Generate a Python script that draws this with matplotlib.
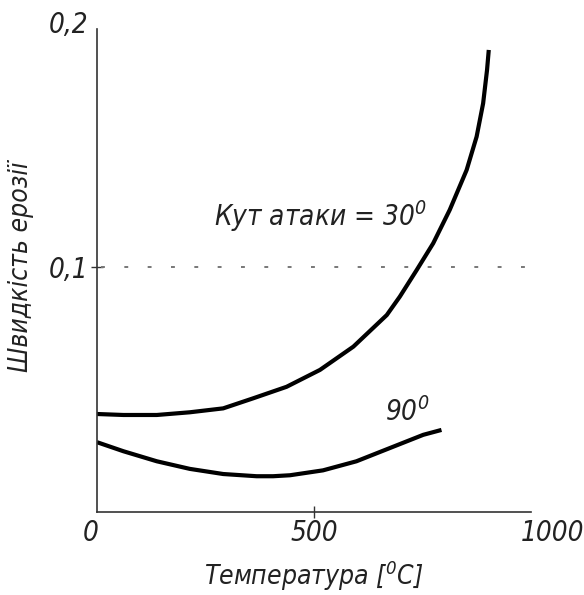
import matplotlib.pyplot as plt
from matplotlib.transforms import ScaledTranslation

# values
temp_30 = [0, 61, 138, 214, 291, 360, 437, 514, 591, 668, 698, 737, 775, 813, 852, 875,
           890, 899, 903]
rate_30 = [0.0400, 0.0396, 0.0396, 0.0407, 0.0423, 0.0464, 0.0511, 0.0580, 0.0675, 0.0804,
           0.0879, 0.0988, 0.1097, 0.1233, 0.1396, 0.1532, 0.1668, 0.1804, 0.1886]
temp_90 = [0, 61, 138, 214, 291, 368, 406, 445, 521, 598, 675, 752, 794]
rate_90 = [0.0285, 0.0248, 0.0207, 0.0176, 0.0155, 0.0146, 0.0146, 0.0150, 0.0170, 0.0207,
           0.0261, 0.0315, 0.0335]

x_ticks = [0, 500, 1000]
x_labels = ["0", "500", "1000"]
y_ticks = [0.1, 0.2]
y_labels = ["0,1", "0,2"]
ref_level = 0.1

plt.rcParams["font.family"] = ["DejaVu Sans"]
plt.rcParams["font.style"] = "italic"
plt.rcParams["font.stretch"] = "condensed"

fig = plt.figure(figsize=(5.84, 5.95), dpi=100)
ax = fig.add_axes([0.166, 0.1395, 0.743, 0.8235])

ax.plot(temp_30, rate_30, color="black", linewidth=3.0, solid_capstyle="butt",
        solid_joinstyle="round")
ax.plot(temp_90, rate_90, color="black", linewidth=3.0, solid_capstyle="butt",
        solid_joinstyle="round")
ax.axhline(ref_level, xmin=0.01, xmax=1.0, color="#777777", linewidth=1.4,
           linestyle=(0, (2, 10)))

ax.set_xlim(0, 1000)
ax.set_ylim(0, 0.2)
for side in ("top", "right"):
    ax.spines[side].set_visible(False)
for side in ("left", "bottom"):
    ax.spines[side].set_color("#333333")
    ax.spines[side].set_linewidth(1.2)
ax.spines["left"].set_bounds(0, 0.197)

ax.set_xticks(x_ticks)
ax.set_xticklabels(x_labels)
ax.set_yticks(y_ticks)
ax.set_yticklabels(y_labels)
ax.tick_params(axis="both", direction="inout", length=8, width=1.0, color="#333333",
               labelsize=20, labelcolor="#222222", pad=2)
ax.tick_params(axis="x", pad=1)
# only the 500 and 0,1 ticks show a mark
for i in (0, 2):
    ax.xaxis.get_major_ticks()[i].tick1line.set_visible(False)
ax.yaxis.get_major_ticks()[1].tick1line.set_visible(False)
# "0" sits a little left of the spine, "1000" a little past the axis end
shifts = {0: -6, 2: 22}
for i, dx in shifts.items():
    lab = ax.get_xticklabels()[i]
    lab.set_transform(lab.get_transform() + ScaledTranslation(dx / 100, 0, fig.dpi_scale_trans))

ax.set_xlabel("Температура [$^{0}$C]", fontsize=19, color="#222222", labelpad=8)
ax.set_ylabel("Швидкість ерозії", fontsize=19, color="#222222")
ax.yaxis.set_label_coords(-0.145, 0.5)

ax.text(270, 0.121, "Кут атаки = 30$^{0}$", fontsize=20, color="#222222",
        ha="left", va="center")
ax.text(665, 0.041, "90$^{0}$", fontsize=20, color="#222222", ha="left", va="center")

fig.savefig("out.png", dpi=100)
